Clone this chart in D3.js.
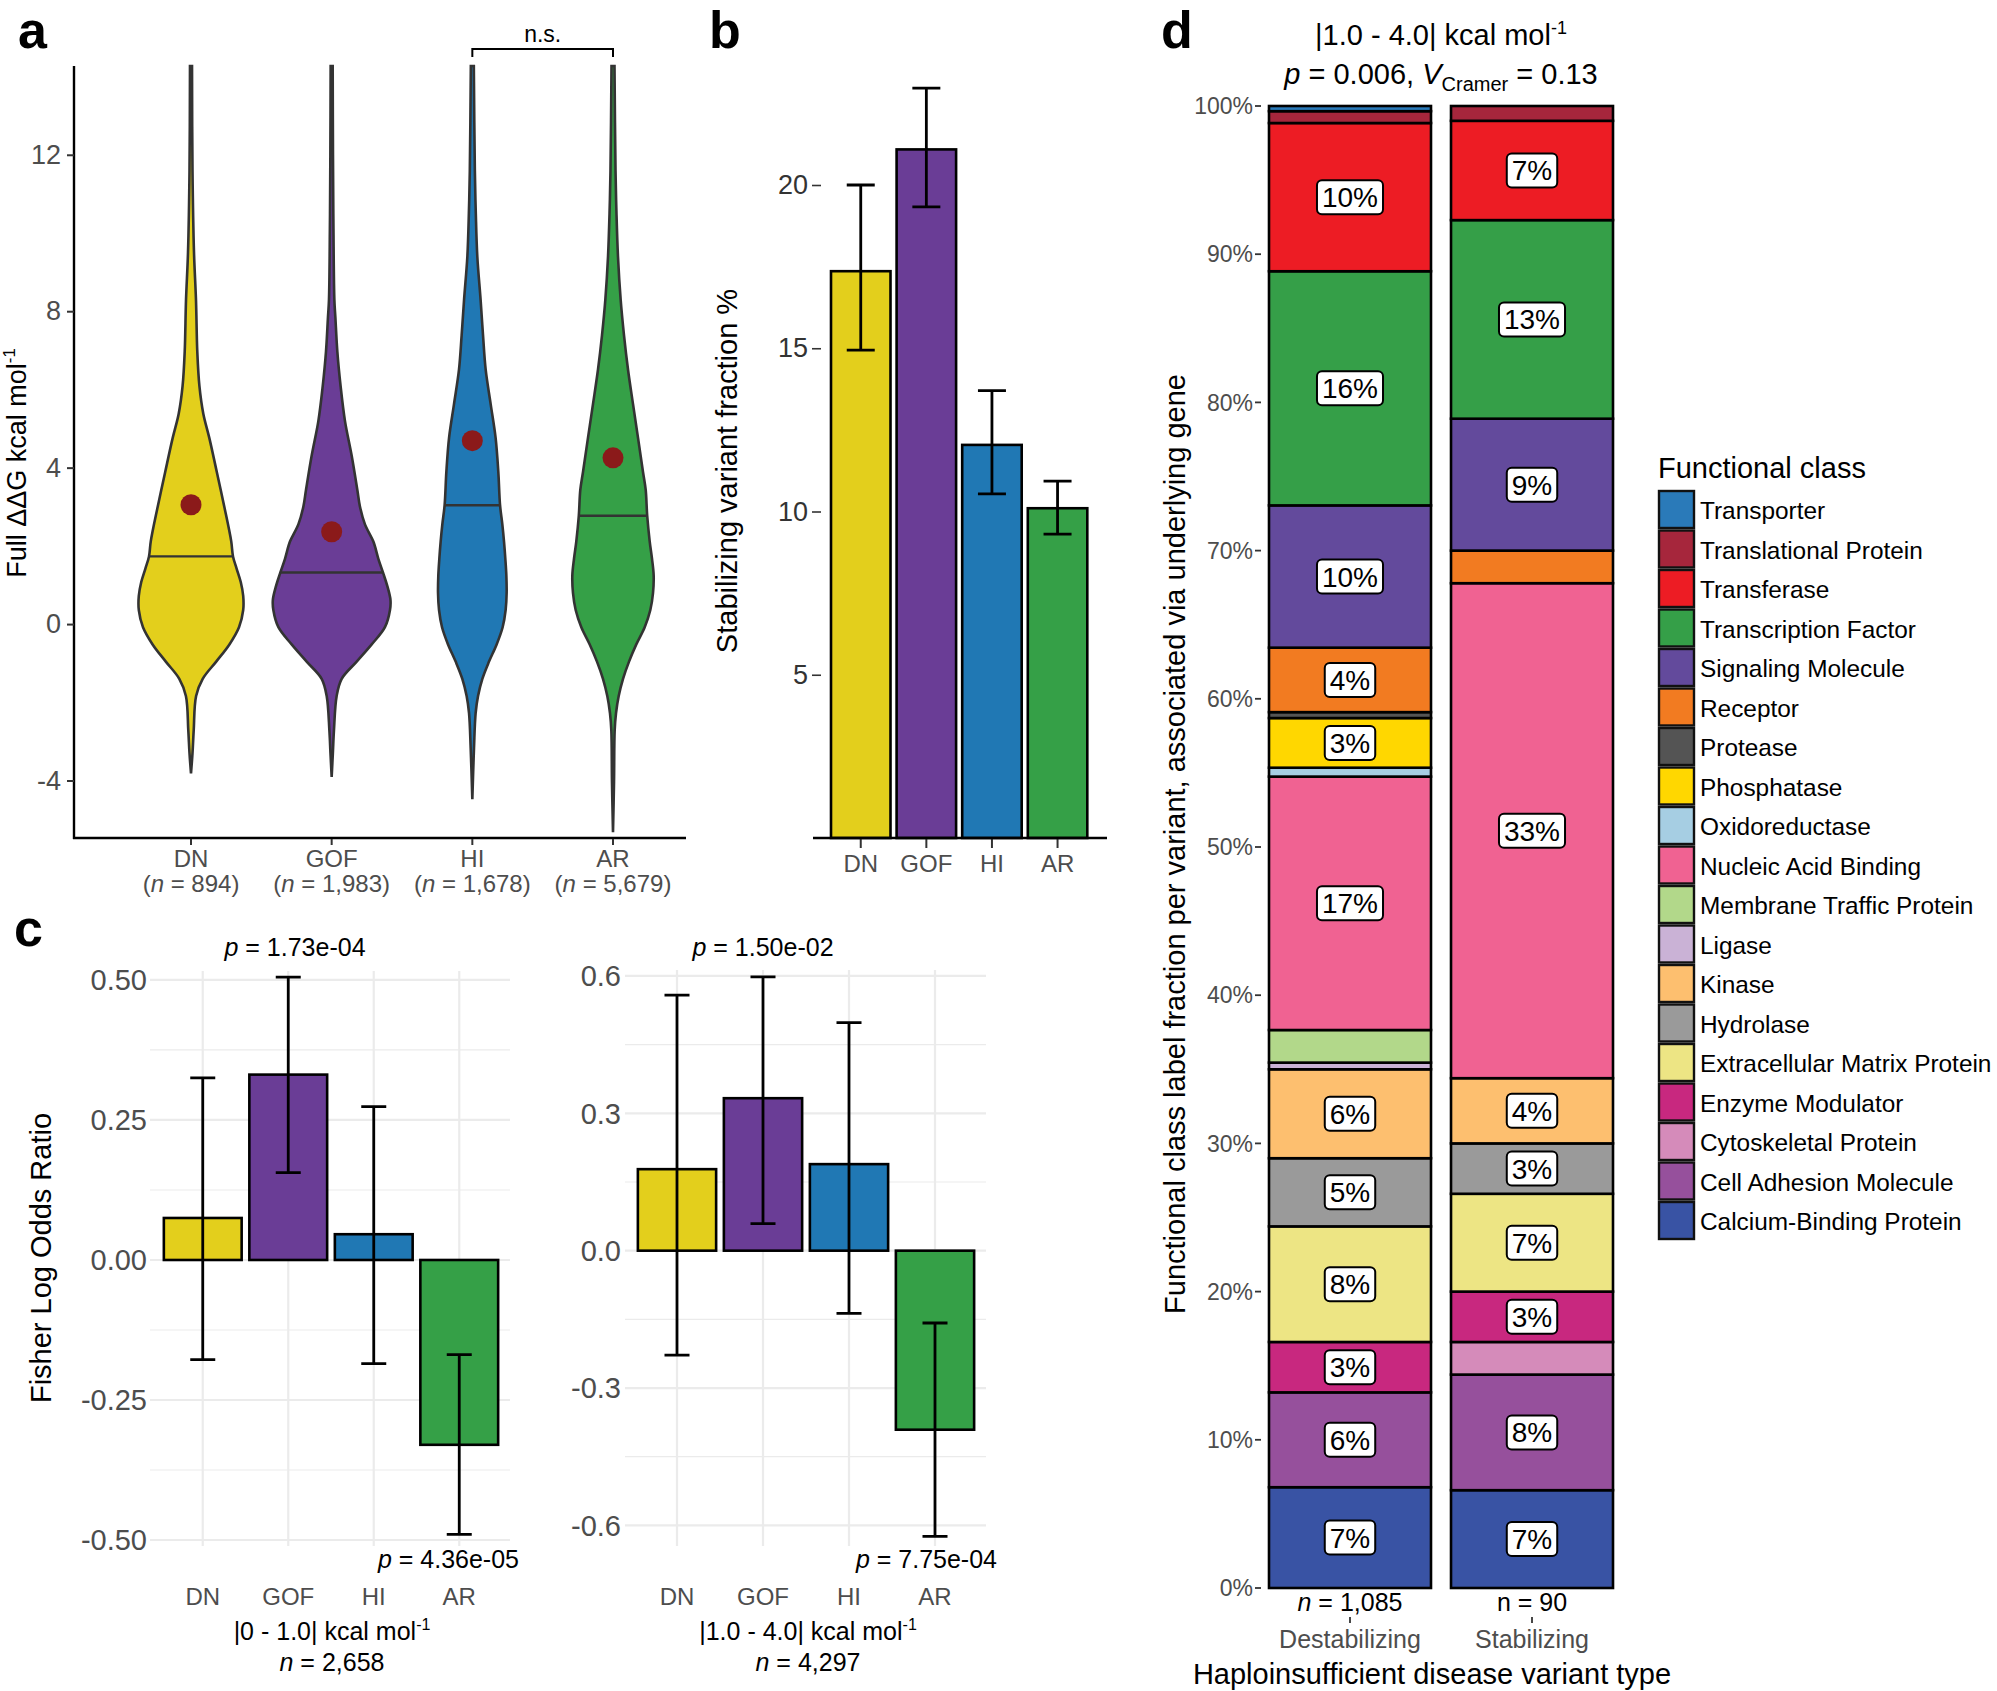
<!DOCTYPE html>
<html>
<head>
<meta charset="utf-8">
<script src="https://cdn.jsdelivr.net/npm/d3@7"></script>
<style>
  body { margin: 0; background: #fff; }
  svg text { font-family: "Liberation Sans", Arial, Helvetica, sans-serif; }
</style>
</head>
<body>
<svg id="fig" width="1997" height="1691"></svg>
<script>
// ---------------- data ----------------
var groups = ["DN", "GOF", "HI", "AR"];
var groupColors = ["#e3cf1c", "#6a3d96", "#2078b4", "#35a047"];
var groupN = ["894", "1,983", "1,678", "5,679"];

// a: violin outlines, [ddG, relative half width]
var violinDN = [[-3.82,0],[-3.3,0.025],[-2.72,0.045],[-1.84,0.085],[-1.4,0.195],[-0.96,0.42],[-0.52,0.64],[-0.08,0.8],[0.36,0.87],[0.72,0.87],[1.07,0.83],[1.42,0.76],[1.73,0.7],[2.12,0.67],[3.0,0.555],[3.89,0.43],[4.76,0.305],[5.38,0.205],[6.09,0.14],[6.96,0.105],[8.29,0.083],[9.5,0.05],[11.6,0.025],[14.27,0.017]];
var violinGOF = [[-3.91,0],[-3.3,0.02],[-2.72,0.038],[-1.84,0.083],[-1.4,0.167],[-0.96,0.417],[-0.52,0.667],[-0.08,0.888],[0.36,0.972],[0.62,0.98],[0.97,0.928],[1.32,0.855],[1.67,0.778],[2.11,0.695],[2.55,0.555],[3.0,0.472],[3.43,0.428],[4.31,0.333],[5.19,0.222],[6.07,0.15],[6.96,0.095],[7.84,0.062],[8.29,0.045],[10.1,0.03],[12.0,0.022],[14.27,0.017]];
var violinHI = [[-4.48,0],[-3.16,0.028],[-2.28,0.055],[-1.84,0.095],[-1.4,0.167],[-0.96,0.278],[-0.52,0.405],[-0.08,0.505],[0.36,0.555],[0.8,0.572],[1.24,0.567],[1.67,0.55],[2.11,0.528],[2.55,0.5],[3.04,0.462],[3.89,0.433],[4.76,0.388],[5.63,0.305],[6.51,0.222],[7.39,0.178],[8.29,0.138],[9.4,0.083],[10.5,0.058],[11.6,0.042],[14.27,0.025]];
var violinAR = [[-5.32,0],[-4.04,0.017],[-2.72,0.028],[-2.28,0.05],[-1.84,0.095],[-1.4,0.167],[-0.96,0.267],[-0.52,0.388],[-0.08,0.528],[0.36,0.622],[0.8,0.667],[1.24,0.678],[1.67,0.65],[2.11,0.612],[2.77,0.57],[3.43,0.545],[3.89,0.5],[4.76,0.417],[5.63,0.333],[6.51,0.25],[7.39,0.183],[8.29,0.128],[9.4,0.083],[10.5,0.058],[11.6,0.042],[14.27,0.025]];
var ddgMedian = [1.73, 1.32, 3.04, 2.77];
var ddgMean = [3.05, 2.36, 4.69, 4.25];
var ddgTicks = [-4, 0, 4, 8, 12];

// b: stabilizing variant fraction (%)
var stabFraction = [17.36, 21.09, 12.04, 10.1];
var stabLow = [14.94, 19.33, 10.54, 9.31];
var stabHigh = [20.0, 22.97, 13.7, 10.93];
var stabTicks = [5, 10, 15, 20];

// c: Fisher log odds ratios, two ddG bins
var lorLow = [0.075, 0.331, 0.046, -0.33];
var lorLowCiLo = [-0.178, 0.156, -0.185, -0.49];
var lorLowCiHi = [0.325, 0.505, 0.274, -0.169];
var lorLowTicks = [-0.5, -0.25, 0, 0.25, 0.5];
var lorMid = [0.178, 0.333, 0.189, -0.391];
var lorMidCiLo = [-0.228, 0.059, -0.137, -0.624];
var lorMidCiHi = [0.558, 0.598, 0.498, -0.158];
var lorMidTicks = [-0.6, -0.3, 0, 0.3, 0.6];

// d: functional class fractions (%), legend order = top of stack first
var classes = ["Transporter", "Translational Protein", "Transferase", "Transcription Factor", "Signaling Molecule", "Receptor", "Protease", "Phosphatase", "Oxidoreductase", "Nucleic Acid Binding", "Membrane Traffic Protein", "Ligase", "Kinase", "Hydrolase", "Extracellular Matrix Protein", "Enzyme Modulator", "Cytoskeletal Protein", "Cell Adhesion Molecule", "Calcium-Binding Protein"];
var classColors = ["#2a7ab9", "#a6263c", "#ed1c24", "#359f48", "#634a9c", "#f27b21", "#545454", "#ffd700", "#a6cee3", "#f06292", "#b2d88a", "#cab2d6", "#fdbf6f", "#9a9a9a", "#ede584", "#c8287f", "#d58bba", "#96509c", "#3953a4"];
var destPct = [0.35, 0.8, 10.0, 15.8, 9.6, 4.35, 0.4, 3.35, 0.6, 17.1, 2.2, 0.45, 6.0, 4.6, 7.8, 3.4, 0, 6.4, 6.8];
var stabPct = [0, 1.0, 6.7, 13.4, 8.9, 2.2, 0, 0, 0, 33.4, 0, 0, 4.4, 3.4, 6.6, 3.4, 2.2, 7.8, 6.6];
var variantTypes = ["Destabilizing", "Stabilizing"];
var pctTicks = [0, 10, 20, 30, 40, 50, 60, 70, 80, 90, 100];

// ---------------- drawing ----------------
var svg = d3.select("#fig");
svg.append("rect").attr("width", 1997).attr("height", 1691).attr("fill", "#fff");

// plain hyphen minus like the original figure
function hy(f) { return function(v) { return f(v).replace("\u2212", "-"); }; }

// panel letters
[["a", 18, 48], ["b", 709, 48], ["c", 14, 946], ["d", 1161, 48]].forEach(function(p) {
  svg.append("text").attr("x", p[1]).attr("y", p[2]).text(p[0])
    .style("font-size", "52px").style("font-weight", "bold");
});

// helper: rotated axis title
function yTitle(x, y, size, parts) {
  var t = svg.append("text")
    .attr("transform", "translate(" + x + "," + y + ") rotate(-90)")
    .attr("text-anchor", "middle").style("font-size", size + "px");
  parts.forEach(function(p) {
    var s = t.append("tspan").text(p.t);
    if (p.sup) s.attr("dy", -size * 0.4).style("font-size", (size * 0.62) + "px");
    if (p.it) s.style("font-style", "italic");
  });
  return t;
}

function widthAt(v, val) {
  for (var i = 1; i < v.length; i++) {
    if (v[i][0] >= val) {
      var f = (val - v[i-1][0]) / (v[i][0] - v[i-1][0]);
      return v[i-1][1] + f * (v[i][1] - v[i-1][1]);
    }
  }
  return 0;
}

// ======== panel a: violins ========
var yA = d3.scaleLinear().domain([-5.47, 14.27]).range([838, 66]);
var xA = d3.scalePoint().domain(groups).range([191, 613]);
var wA = d3.scaleLinear().domain([0, 1]).range([0, 60]);
var violins = [violinDN, violinGOF, violinHI, violinAR];
var gA = svg.append("g");

groups.forEach(function(g, i) {
  var cx = xA(g);
  var area = d3.area()
    .y(function(d) { return yA(d[0]); })
    .x0(function(d) { return cx - wA(d[1]); })
    .x1(function(d) { return cx + wA(d[1]); })
    .curve(d3.curveCatmullRom);
  gA.append("path").datum(violins[i]).attr("d", area)
    .attr("fill", groupColors[i]).attr("stroke", "#333").attr("stroke-width", 2.6);
  var hw = wA(widthAt(violins[i], ddgMedian[i]));
  gA.append("line")
    .attr("x1", cx - hw).attr("x2", cx + hw)
    .attr("y1", yA(ddgMedian[i])).attr("y2", yA(ddgMedian[i]))
    .attr("stroke", "#333").attr("stroke-width", 2.4);
  gA.append("circle").attr("cx", cx).attr("cy", yA(ddgMean[i])).attr("r", 10.5)
    .attr("fill", "#8b1a1a");
});

gA.append("line").attr("x1", 74).attr("x2", 74).attr("y1", yA(14.27)).attr("y2", yA(-5.47) + 1)
  .attr("stroke", "#000").attr("stroke-width", 2.4);
gA.append("line").attr("x1", 73).attr("x2", 686).attr("y1", yA(-5.47)).attr("y2", yA(-5.47))
  .attr("stroke", "#000").attr("stroke-width", 2.4);

var axA = gA.append("g").attr("transform", "translate(74,0)")
  .call(d3.axisLeft(yA).tickValues(ddgTicks).tickFormat(hy(d3.format("d"))).tickSize(7).tickPadding(6));
axA.select(".domain").remove();
axA.selectAll("line").attr("stroke", "#333").attr("stroke-width", 2);
axA.selectAll("text").style("font-size", "27px").attr("fill", "#4d4d4d")
  .style("font-family", "Liberation Sans, Arial, sans-serif");

groups.forEach(function(g, i) {
  gA.append("line").attr("x1", xA(g)).attr("x2", xA(g)).attr("y1", 839).attr("y2", 845)
    .attr("stroke", "#333").attr("stroke-width", 2);
  gA.append("text").attr("x", xA(g)).attr("y", 867).attr("text-anchor", "middle")
    .style("font-size", "24px").attr("fill", "#4d4d4d").text(g);
  var t = gA.append("text").attr("x", xA(g)).attr("y", 892).attr("text-anchor", "middle")
    .style("font-size", "24px").attr("fill", "#4d4d4d");
  t.append("tspan").text("(");
  t.append("tspan").style("font-style", "italic").text("n");
  t.append("tspan").text(" = " + groupN[i] + ")");
});

// n.s. bracket between HI and AR
gA.append("path")
  .attr("d", "M" + xA("HI") + ",57V49H" + xA("AR") + "V57")
  .attr("fill", "none").attr("stroke", "#000").attr("stroke-width", 2);
gA.append("text").attr("x", (xA("HI") + xA("AR")) / 2).attr("y", 42).attr("text-anchor", "middle")
  .style("font-size", "23px").text("n.s.");

yTitle(26, 463, 27, [{t: "Full \u0394\u0394G kcal mol"}, {t: "-1", sup: true}]);

// ======== panel b: stabilizing fraction ========
var yB = d3.scaleLinear().domain([0, 20]).range([838, 185]);
var xB = d3.scaleBand().domain(groups).range([831, 1087.3]).paddingInner(0.093);
var gB = svg.append("g");

groups.forEach(function(g, i) {
  gB.append("rect").attr("x", xB(g)).attr("y", yB(stabFraction[i]))
    .attr("width", xB.bandwidth()).attr("height", yB(0) - yB(stabFraction[i]))
    .attr("fill", groupColors[i]).attr("stroke", "#000").attr("stroke-width", 2.6);
});
groups.forEach(function(g, i) {
  var cx = xB(g) + xB.bandwidth() / 2;
  gB.append("path")
    .attr("d", "M" + (cx - 14) + "," + yB(stabHigh[i]) + "H" + (cx + 14) +
      "M" + cx + "," + yB(stabHigh[i]) + "V" + yB(stabLow[i]) +
      "M" + (cx - 14) + "," + yB(stabLow[i]) + "H" + (cx + 14))
    .attr("fill", "none").attr("stroke", "#000").attr("stroke-width", 2.8);
  gB.append("line").attr("x1", cx).attr("x2", cx).attr("y1", 839).attr("y2", 848)
    .attr("stroke", "#333").attr("stroke-width", 2);
  gB.append("text").attr("x", cx).attr("y", 872).attr("text-anchor", "middle")
    .style("font-size", "24px").attr("fill", "#4d4d4d").text(g);
});
gB.append("line").attr("x1", 813).attr("x2", 1107).attr("y1", yB(0)).attr("y2", yB(0))
  .attr("stroke", "#000").attr("stroke-width", 2.6);

var axB = gB.append("g").attr("transform", "translate(821,0)")
  .call(d3.axisLeft(yB).tickValues(stabTicks).tickSize(9).tickPadding(4));
axB.select(".domain").remove();
axB.selectAll("line").attr("stroke", "#333").attr("stroke-width", 1.6);
axB.selectAll("text").style("font-size", "27px").attr("fill", "#333")
  .style("font-family", "Liberation Sans, Arial, sans-serif");

yTitle(737, 471, 29, [{t: "Stabilizing variant fraction %"}]);

// ======== panel c: log odds ratios ========
function drawLor(o) {
  var y = d3.scaleLinear().domain(o.yDomain).range([1546, o.yTop]);
  var x = d3.scaleBand().domain(groups).range(o.xRange).paddingInner(0.09).paddingOuter(0.045);
  var g = svg.append("g");
  var bw = x.bandwidth();

  // grid
  o.ticks.forEach(function(t, k) {
    g.append("line").attr("x1", o.grid[0]).attr("x2", o.grid[1]).attr("y1", y(t)).attr("y2", y(t))
      .attr("stroke", "#ebebeb").attr("stroke-width", 2.2);
    if (k < o.ticks.length - 1) {
      var m = (t + o.ticks[k + 1]) / 2;
      g.append("line").attr("x1", o.grid[0]).attr("x2", o.grid[1]).attr("y1", y(m)).attr("y2", y(m))
        .attr("stroke", "#ebebeb").attr("stroke-width", 1.2);
    }
    g.append("text").attr("x", o.labelX).attr("y", y(t)).attr("dy", "0.36em")
      .attr("text-anchor", "end").style("font-size", "29px").attr("fill", "#4d4d4d")
      .text(o.fmt(t));
  });
  groups.forEach(function(gr) {
    var cx = x(gr) + bw / 2;
    g.append("line").attr("x1", cx).attr("x2", cx).attr("y1", o.yTop).attr("y2", 1546)
      .attr("stroke", "#ebebeb").attr("stroke-width", 2.2);
  });

  groups.forEach(function(gr, i) {
    var v = o.vals[i];
    g.append("rect").attr("x", x(gr)).attr("y", y(Math.max(0, v)))
      .attr("width", bw).attr("height", Math.abs(y(v) - y(0)))
      .attr("fill", groupColors[i]).attr("stroke", "#000").attr("stroke-width", 2.6);
  });
  groups.forEach(function(gr, i) {
    var cx = x(gr) + bw / 2;
    g.append("path")
      .attr("d", "M" + (cx - 12.5) + "," + y(o.hi[i]) + "H" + (cx + 12.5) +
        "M" + cx + "," + y(o.hi[i]) + "V" + y(o.lo[i]) +
        "M" + (cx - 12.5) + "," + y(o.lo[i]) + "H" + (cx + 12.5))
      .attr("fill", "none").attr("stroke", "#000").attr("stroke-width", 2.8);
    g.append("text").attr("x", cx).attr("y", 1605).attr("text-anchor", "middle")
      .style("font-size", "24px").attr("fill", "#4d4d4d").text(gr);
  });

  var pt = g.append("text").attr("x", o.pTopX).attr("y", 956).attr("text-anchor", "middle")
    .style("font-size", "25px");
  pt.append("tspan").style("font-style", "italic").text("p");
  pt.append("tspan").text(" = " + o.pTop);
  var pb = g.append("text").attr("x", o.pBotX).attr("y", 1568).attr("text-anchor", "end")
    .style("font-size", "25px");
  pb.append("tspan").style("font-style", "italic").text("p");
  pb.append("tspan").text(" = " + o.pBot);

  var st = g.append("text").attr("x", o.subX).attr("y", 1640).attr("text-anchor", "middle")
    .style("font-size", "25px");
  st.append("tspan").text(o.bin + " kcal mol");
  st.append("tspan").attr("dy", -10).style("font-size", "16px").text("-1");
  var nt = g.append("text").attr("x", o.subX).attr("y", 1671).attr("text-anchor", "middle")
    .style("font-size", "25px");
  nt.append("tspan").style("font-style", "italic").text("n");
  nt.append("tspan").text(" = " + o.n);
}

drawLor({
  yDomain: [-0.5107, 0.516], yTop: 971, xRange: [160, 502], grid: [150, 510], labelX: 147,
  ticks: lorLowTicks, fmt: hy(d3.format(".2f")),
  vals: lorLow, lo: lorLowCiLo, hi: lorLowCiHi,
  pTop: "1.73e-04", pTopX: 295, pBot: "4.36e-05", pBotX: 519,
  bin: "|0 - 1.0|", n: "2,658", subX: 332
});
drawLor({
  yDomain: [-0.645, 0.613], yTop: 970, xRange: [634, 978], grid: [625, 986], labelX: 621,
  ticks: lorMidTicks, fmt: hy(d3.format(".1f")),
  vals: lorMid, lo: lorMidCiLo, hi: lorMidCiHi,
  pTop: "1.50e-02", pTopX: 763, pBot: "7.75e-04", pBotX: 997,
  bin: "|1.0 - 4.0|", n: "4,297", subX: 808
});

yTitle(51, 1258, 29, [{t: "Fisher Log Odds Ratio"}]);

// ======== panel d: stacked functional classes ========
var yD = d3.scaleLinear().domain([0, 100]).range([1588, 106]);
var xD = d3.scaleBand().domain(variantTypes).range([1269, 1613]).paddingInner(0.11);
var gD = svg.append("g");

var rows = variantTypes.map(function(t, j) {
  var r = {type: t};
  var src = j === 0 ? destPct : stabPct;
  classes.forEach(function(c, k) { r[c] = src[k]; });
  return r;
});
var stackKeys = classes.slice().reverse();
var series = d3.stack().keys(stackKeys)(rows);
var colorOf = d3.scaleOrdinal().domain(classes).range(classColors);

series.forEach(function(s) {
  s.forEach(function(d) {
    if (d[1] - d[0] <= 0) return;
    gD.append("rect").attr("x", xD(d.data.type)).attr("y", yD(d[1]))
      .attr("width", xD.bandwidth()).attr("height", yD(d[0]) - yD(d[1]))
      .attr("fill", colorOf(s.key)).attr("stroke", "#000").attr("stroke-width", 2.6);
  });
});
series.forEach(function(s) {
  s.forEach(function(d) {
    var v = d[1] - d[0];
    if (v < 2.5) return;
    var cx = xD(d.data.type) + xD.bandwidth() / 2;
    var cy = yD((d[0] + d[1]) / 2);
    var lab = gD.append("g");
    var box = lab.append("rect");
    var t = lab.append("text").attr("x", cx).attr("y", cy + 10).attr("text-anchor", "middle")
      .style("font-size", "28px").text(Math.round(v) + "%");
    var w = t.node().getComputedTextLength() + 10;
    box.attr("x", cx - w / 2).attr("y", cy - 17).attr("width", w).attr("height", 34)
      .attr("rx", 5).attr("fill", "#fff").attr("stroke", "#000").attr("stroke-width", 2);
  });
});

pctTicks.forEach(function(t) {
  gD.append("text").attr("x", 1253).attr("y", yD(t)).attr("dy", "0.36em").attr("text-anchor", "end")
    .style("font-size", "23px").attr("fill", "#4d4d4d").text(t + "%");
  gD.append("line").attr("x1", 1255).attr("x2", 1261).attr("y1", yD(t)).attr("y2", yD(t))
    .attr("stroke", "#333").attr("stroke-width", 1.8);
});

variantTypes.forEach(function(t, j) {
  var cx = xD(t) + xD.bandwidth() / 2;
  var nt = gD.append("text").attr("x", cx).attr("y", 1611).attr("text-anchor", "middle")
    .style("font-size", "25px");
  if (j === 0) {
    nt.append("tspan").style("font-style", "italic").text("n");
    nt.append("tspan").text(" = 1,085");
  } else {
    nt.text("n = 90");
  }
  gD.append("line").attr("x1", cx).attr("x2", cx).attr("y1", 1617).attr("y2", 1623)
    .attr("stroke", "#333").attr("stroke-width", 1.8);
  gD.append("text").attr("x", cx).attr("y", 1648).attr("text-anchor", "middle")
    .style("font-size", "25px").attr("fill", "#4d4d4d").text(t);
});

gD.append("text").attr("x", 1432).attr("y", 1684).attr("text-anchor", "middle")
  .style("font-size", "29px").text("Haploinsufficient disease variant type");
yTitle(1185, 844, 29, [{t: "Functional class label fraction per variant, associated via underlying gene"}]);

// title
var t1 = gD.append("text").attr("x", 1441).attr("y", 45).attr("text-anchor", "middle")
  .style("font-size", "29px");
t1.append("tspan").text("|1.0 - 4.0| kcal mol");
t1.append("tspan").attr("dy", -11).style("font-size", "18px").text("-1");
var t2 = gD.append("text").attr("x", 1441).attr("y", 84).attr("text-anchor", "middle")
  .style("font-size", "29px");
t2.append("tspan").style("font-style", "italic").text("p");
t2.append("tspan").text(" = 0.006, ");
t2.append("tspan").style("font-style", "italic").text("V");
t2.append("tspan").attr("dy", 7).style("font-size", "20px").text("Cramer");
t2.append("tspan").attr("dy", -7).text(" = 0.13");

// legend
var gL = svg.append("g");
gL.append("text").attr("x", 1658).attr("y", 478).style("font-size", "29px").text("Functional class");
classes.forEach(function(c, k) {
  var yk = 491 + k * 39.5;
  gL.append("rect").attr("x", 1659).attr("y", yk).attr("width", 35).attr("height", 37)
    .attr("fill", classColors[k]).attr("stroke", "#111").attr("stroke-width", 2.4);
  gL.append("text").attr("x", 1700).attr("y", yk + 28).style("font-size", "24.4px").text(c);
});
</script>
</body>
</html>
